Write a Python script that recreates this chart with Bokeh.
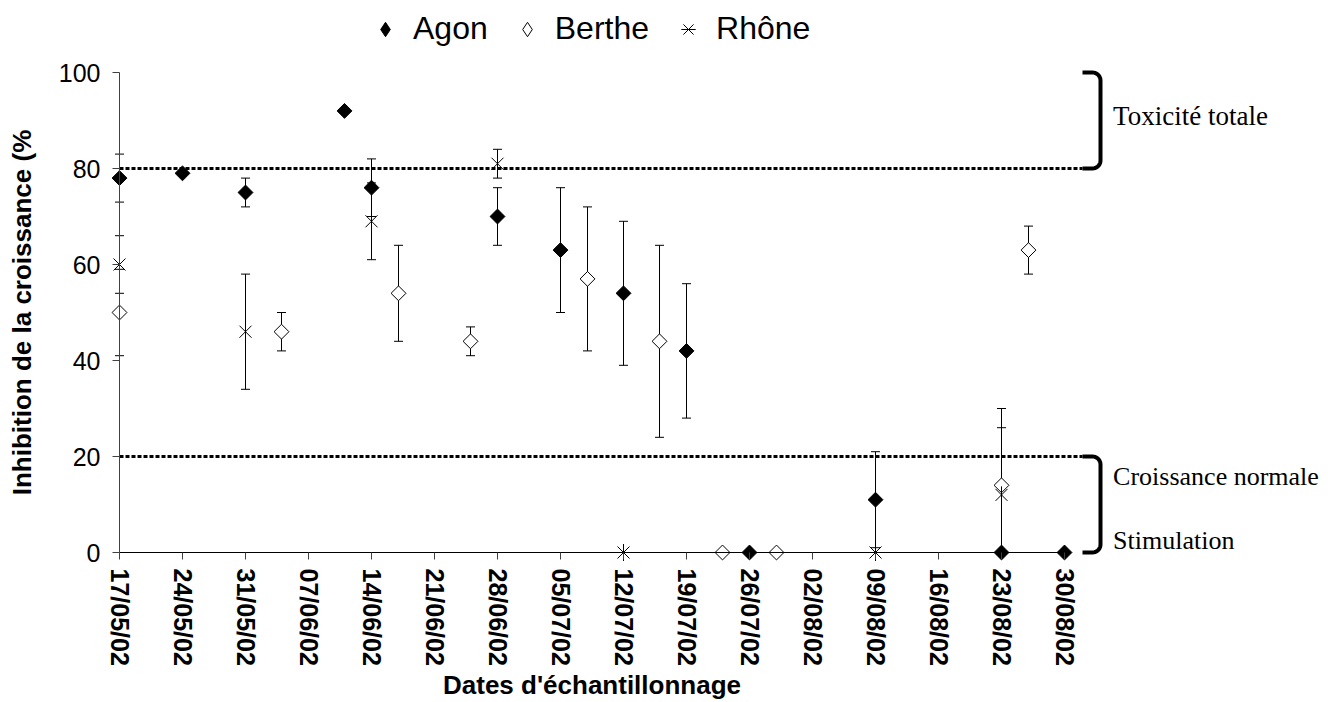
import numpy as np
import pandas as pd
from bokeh.plotting import figure
from bokeh.models import (ColumnDataSource, Range1d, FixedTicker, DatetimeTickFormatter,
                          Whisker, TeeHead, Legend, LegendItem, Label)
from bokeh.embed import file_html
from bokeh.resources import INLINE

# ---------------- data ----------------
tick_dates = ["17/05/02", "24/05/02", "31/05/02", "07/06/02", "14/06/02", "21/06/02",
              "28/06/02", "05/07/02", "12/07/02", "19/07/02", "26/07/02", "02/08/02",
              "09/08/02", "16/08/02", "23/08/02", "30/08/02"]
y_ticks = [0, 20, 40, 60, 80, 100]

agon_dates = ["17/05/02", "24/05/02", "31/05/02", "11/06/02", "14/06/02", "28/06/02",
              "05/07/02", "12/07/02", "19/07/02", "26/07/02", "09/08/02", "23/08/02",
              "30/08/02"]
agon_values = [78, 79, 75, 92, 76, 70, 63, 54, 42, 0, 11, 0, 0]
agon_errors = [5, 0, 3, 0, 6, 6, 13, 15, 14, 0, 10, 0, 0]

berthe_dates = ["17/05/02", "04/06/02", "17/06/02", "25/06/02", "08/07/02", "16/07/02",
                "23/07/02", "29/07/02", "23/08/02", "26/08/02"]
berthe_values = [50, 46, 54, 44, 57, 44, 0, 0, 14, 63]
berthe_errors = [9, 4, 10, 3, 15, 20, 0, 0, 16, 5]

rhone_dates = ["17/05/02", "31/05/02", "14/06/02", "28/06/02", "12/07/02", "09/08/02",
               "23/08/02"]
rhone_values = [60, 46, 69, 81, 0, 0, 12]
rhone_errors = [6, 12, 8, 3, 0, 0, 14]

zone_high = [80, 100]   # Toxicité totale
zone_low = [0, 20]      # Croissance normale / Stimulation
zone_texts = ["Toxicité totale", "Croissance normale", "Stimulation"]
zone_text_levels = [91, 15.8, 2.5]

# ---------------- helpers ----------------
DAY = 86400000.0


def to_ms(s):
    return pd.to_datetime(s, format="%d/%m/%y").value / 1e6


t0 = to_ms(tick_dates[0])
t_end = to_ms(tick_dates[-1])

PX_DAY = 9.0      # horizontal pixels per day
PX_UNIT = 4.8     # vertical pixels per % unit
W, H = 1328, 702
X0_PX = 119       # pixel column of the first date
Y0_PX = 552       # pixel row of 0 %
x_start = t0 - (X0_PX / PX_DAY) * DAY
x_end = x_start + (W / PX_DAY) * DAY
y_end = Y0_PX / PX_UNIT
y_start = y_end - H / PX_UNIT

p = figure(width=W, height=H, x_axis_type="datetime",
           x_range=Range1d(x_start, x_end), y_range=Range1d(y_start, y_end),
           min_border_left=0, min_border_right=0, min_border_top=0, min_border_bottom=0,
           toolbar_location=None, output_backend="svg", outline_line_color=None)
p.xgrid.visible = False
p.ygrid.visible = False

# ---------------- axes ----------------
xa = p.xaxis[0]
xa.fixed_location = 0
xa.bounds = (t0, t_end)
xa.ticker = FixedTicker(ticks=[to_ms(d) for d in tick_dates], minor_ticks=[])
fmt = "%d/%m/%y"
xa.formatter = DatetimeTickFormatter(microseconds=fmt, milliseconds=fmt, seconds=fmt,
                                     minsec=fmt, minutes=fmt, hourmin=fmt, hours=fmt,
                                     days=fmt, months=fmt, years=fmt)
xa.major_label_orientation = "vertical"
xa.major_label_text_font = "Liberation Sans"
xa.major_label_text_font_style = "bold"
xa.major_label_text_font_size = "25px"
xa.major_label_text_color = "black"
xa.major_label_standoff = 9
xa.major_tick_out = 7
xa.major_tick_in = 0
xa.major_tick_line_color = "#404040"
xa.minor_tick_line_color = None
xa.axis_line_color = "black"
xa.axis_label = "Dates d'échantillonnage"
xa.axis_label_text_font = "Liberation Sans"
xa.axis_label_text_font_style = "bold"
xa.axis_label_text_font_size = "26px"
xa.axis_label_text_color = "black"
xa.axis_label_standoff = 1

ya = p.yaxis[0]
ya.fixed_location = t0
ya.bounds = (0, 100)
ya.ticker = FixedTicker(ticks=y_ticks, minor_ticks=[])
ya.major_label_text_font = "Liberation Sans"
ya.major_label_text_font_size = "25px"
ya.major_label_text_color = "black"
ya.major_label_standoff = 12
ya.major_tick_out = 7
ya.major_tick_in = 0
ya.major_tick_line_color = "#404040"
ya.minor_tick_line_color = None
ya.axis_line_color = "#404040"
ya.axis_label = "Inhibition de la croissance (%"
ya.axis_label_text_font = "Liberation Sans"
ya.axis_label_text_font_style = "bold"
ya.axis_label_text_font_size = "26px"
ya.axis_label_text_color = "black"
ya.axis_label_standoff = 19

# ---------------- threshold lines and brackets ----------------
br_start = t_end + 2 * DAY      # where the bracket stub begins
br_x = t_end + 4 * DAY          # vertical part of the bracket
for lvl in (zone_high[0], zone_low[1]):
    p.line([t0, br_start], [lvl, lvl], line_color="black", line_width=3,
           line_dash="4 2", line_cap="butt")


def bracket(lo, hi):
    rx = (8 / PX_DAY) * DAY
    ry = 8 / PX_UNIT
    a1 = np.linspace(-np.pi / 2, 0, 10)
    a2 = np.linspace(0, np.pi / 2, 10)
    xs = [br_start] + list(br_x - rx + rx * np.cos(a1)) + list(br_x - rx + rx * np.cos(a2)) + [br_start]
    ys = [lo] + list(lo + ry + ry * np.sin(a1)) + list(hi - ry + ry * np.sin(a2)) + [hi]
    return xs, ys


for lo, hi in (zone_high, zone_low):
    bx, by = bracket(lo, hi)
    p.line(bx, by, line_color="black", line_width=4, line_join="round")

# ---------------- error bars ----------------
def add_whisker(dates, vals, errs):
    xs = [to_ms(d) for d, e in zip(dates, errs) if e > 0]
    up = [v + e for v, e in zip(vals, errs) if e > 0]
    lo = [max(v - e, 0) for v, e in zip(vals, errs) if e > 0]
    src = ColumnDataSource(dict(x=xs, upper=up, lower=lo))
    w = Whisker(source=src, base="x", upper="upper", lower="lower", dimension="height",
                level="underlay", line_color="black", line_width=1,
                upper_head=TeeHead(size=9, line_color="black", line_width=1),
                lower_head=TeeHead(size=9, line_color="black", line_width=1))
    p.add_layout(w)


add_whisker(agon_dates, agon_values, agon_errors)
add_whisker(berthe_dates, berthe_values, berthe_errors)
add_whisker(rhone_dates, rhone_values, rhone_errors)

# ---------------- markers ----------------
src_a = ColumnDataSource(dict(x=[to_ms(d) for d in agon_dates], y=agon_values))
src_b = ColumnDataSource(dict(x=[to_ms(d) for d in berthe_dates], y=berthe_values))
src_r = ColumnDataSource(dict(x=[to_ms(d) for d in rhone_dates], y=rhone_values))

ra = p.scatter("x", "y", source=src_a, marker="square", angle=np.pi / 4, size=10.5,
               fill_color="black", line_color="black", line_width=1)
rb = p.scatter("x", "y", source=src_b, marker="square", angle=np.pi / 4, size=10.5,
               fill_color="white", line_color="black", line_width=1)
rr1 = p.scatter("x", "y", source=src_r, marker="x", size=17,
                line_color="black", line_width=1)
rr2 = p.scatter("x", "y", source=src_r, marker="dash", angle=np.pi / 2, size=17,
                line_color="black", line_width=1)

# legend-only twins (the legend draws markers unrotated, so use diamonds there)
la = p.scatter("x", "y", source=src_a, marker="diamond", size=10,
               fill_color="black", line_color="black", line_width=1, visible=False)
lb = p.scatter("x", "y", source=src_b, marker="diamond", size=10,
               fill_color="white", line_color="black", line_width=1, visible=False)

legend = Legend(items=[LegendItem(label="Agon", renderers=[la]),
                       LegendItem(label="Berthe", renderers=[lb]),
                       LegendItem(label="Rhône", renderers=[rr1, rr2])],
                orientation="horizontal", location=(367, H - 47),
                label_text_font="Liberation Sans", label_text_font_size="32px",
                label_text_color="black",
                glyph_width=36, glyph_height=36, label_height=36, label_standoff=10,
                spacing=21, padding=0, margin=0, border_line_color=None,
                background_fill_alpha=0, inactive_fill_alpha=0)
p.add_layout(legend)

# ---------------- zone texts ----------------
zone_sizes = ["27px", "26px", "26px"]
for txt, lvl, fs in zip(zone_texts, zone_text_levels, zone_sizes):
    p.add_layout(Label(x=t_end + 5.4 * DAY, y=lvl, text=txt, text_font="Liberation Serif",
                       text_font_size=fs, text_baseline="middle", text_align="left",
                       text_color="black"))

open("out.html", "w").write(file_html(p, INLINE))
